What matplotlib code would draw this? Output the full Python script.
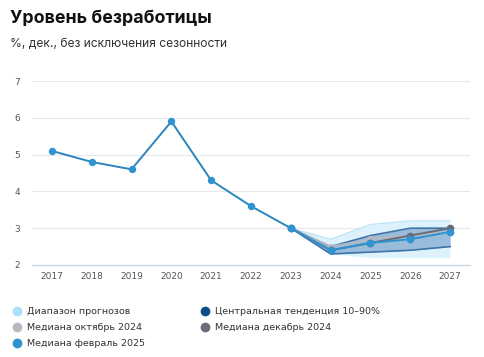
import matplotlib
matplotlib.use("Agg")
import matplotlib.pyplot as plt
from matplotlib.lines import Line2D

years_hist = [2017, 2018, 2019, 2020, 2021, 2022, 2023]
rate_hist = [5.1, 4.8, 4.6, 5.9, 4.3, 3.6, 3.0]

years_fc = [2023, 2024, 2025, 2026, 2027]
range_low = [3.0, 2.3, 2.2, 2.2, 2.2]
range_high = [3.0, 2.7, 3.1, 3.2, 3.2]
central_low = [3.0, 2.3, 2.35, 2.4, 2.5]
central_high = [3.0, 2.5, 2.8, 3.0, 3.0]
median_oct24 = [3.0, 2.5, 2.7, 2.8, 2.9]
median_dec24 = [3.0, 2.4, 2.6, 2.8, 3.0]
median_feb25 = [3.0, 2.4, 2.6, 2.7, 2.9]

xticks = list(range(2017, 2028))
yticks = [2, 3, 4, 5, 6, 7]

c_range = "#a9e2f8"
c_central = "#0f4c8a"
c_oct = "#b7b9c2"
c_dec = "#6a6d77"
c_feb = "#2e93cf"

fig = plt.figure(figsize=(4.85, 3.57), dpi=100)
ax = fig.add_axes([32/485, 1-265/357, (470-32)/485, (265-81)/357])
ax.set_xlim(2016.5, 2027.5)
ax.set_ylim(2, 7)

ax.fill_between(years_fc, range_low, range_high, color="#dcf2fc", alpha=0.95, lw=0, zorder=1)
ax.plot(years_fc, range_high, color="#bfe6f8", lw=1, zorder=1.5)
ax.fill_between(years_fc, central_low, central_high, color="#8fb3d6", alpha=0.85, lw=0, zorder=2)
ax.plot(years_fc, central_low, color="#3f74aa", lw=1.2, zorder=2.5)
ax.plot(years_fc, central_high, color="#3f74aa", lw=1.2, zorder=2.5)

ax.plot(years_fc, median_oct24, color=c_oct, lw=1.2, marker="o", ms=4, zorder=3)
ax.plot(years_fc, median_dec24, color=c_dec, lw=1.4, marker="o", ms=4.5, zorder=4)
ax.plot(years_fc, median_feb25, color=c_feb, lw=1.4, marker="o", ms=4.5, zorder=5)
ax.plot(years_hist, rate_hist, color="#2a86bd", lw=1.4, marker="o", ms=4.3,
        markerfacecolor=c_feb, markeredgecolor=c_feb, zorder=6, clip_on=False)

ax.set_xticks(xticks)
ax.set_xticklabels([str(x) for x in xticks])
ax.set_yticks(yticks)
ax.set_yticklabels([str(y) for y in yticks])
ax.grid(axis="y", color="#e6e8ee", lw=0.8)
ax.set_axisbelow(True)
for s in ["top", "right", "left"]:
    ax.spines[s].set_visible(False)
ax.spines["bottom"].set_color("#c9d3e6")
ax.spines["bottom"].set_linewidth(0.9)
ax.tick_params(axis="both", length=0, labelsize=6.5, labelcolor="#555555")
ax.tick_params(axis="y", pad=8.5)
ax.tick_params(axis="x", pad=5)

fig.text(10/485, 1-18/357, "Уровень безработицы", fontsize=12.8, fontweight="bold",
         family="Inter", color="#111111", va="center", ha="left")
fig.text(10/485, 1-44/357, "%, дек., без исключения сезонности", fontsize=8.7,
         family="Inter", color="#333333", va="center", ha="left")

def h(c):
    return Line2D([], [], marker="o", ls="none", ms=6, markerfacecolor=c, markeredgecolor=c)

kw = dict(loc="upper left", frameon=False, fontsize=6.8, handletextpad=0.55,
          labelspacing=0.75, handlelength=1.0, labelcolor="#333333", borderpad=0, borderaxespad=0)
fig.legend([h(c_range), h(c_oct), h(c_feb)],
           ["Диапазон прогнозов", "Медиана октябрь 2024", "Медиана февраль 2025"],
           bbox_to_anchor=(12/485, 1-307/357), **kw)
fig.legend([h(c_central), h(c_dec)],
           ["Центральная тенденция 10–90%", "Медиана декабрь 2024"],
           bbox_to_anchor=(200/485, 1-307/357), **kw)

fig.savefig("out.png", dpi=100)
